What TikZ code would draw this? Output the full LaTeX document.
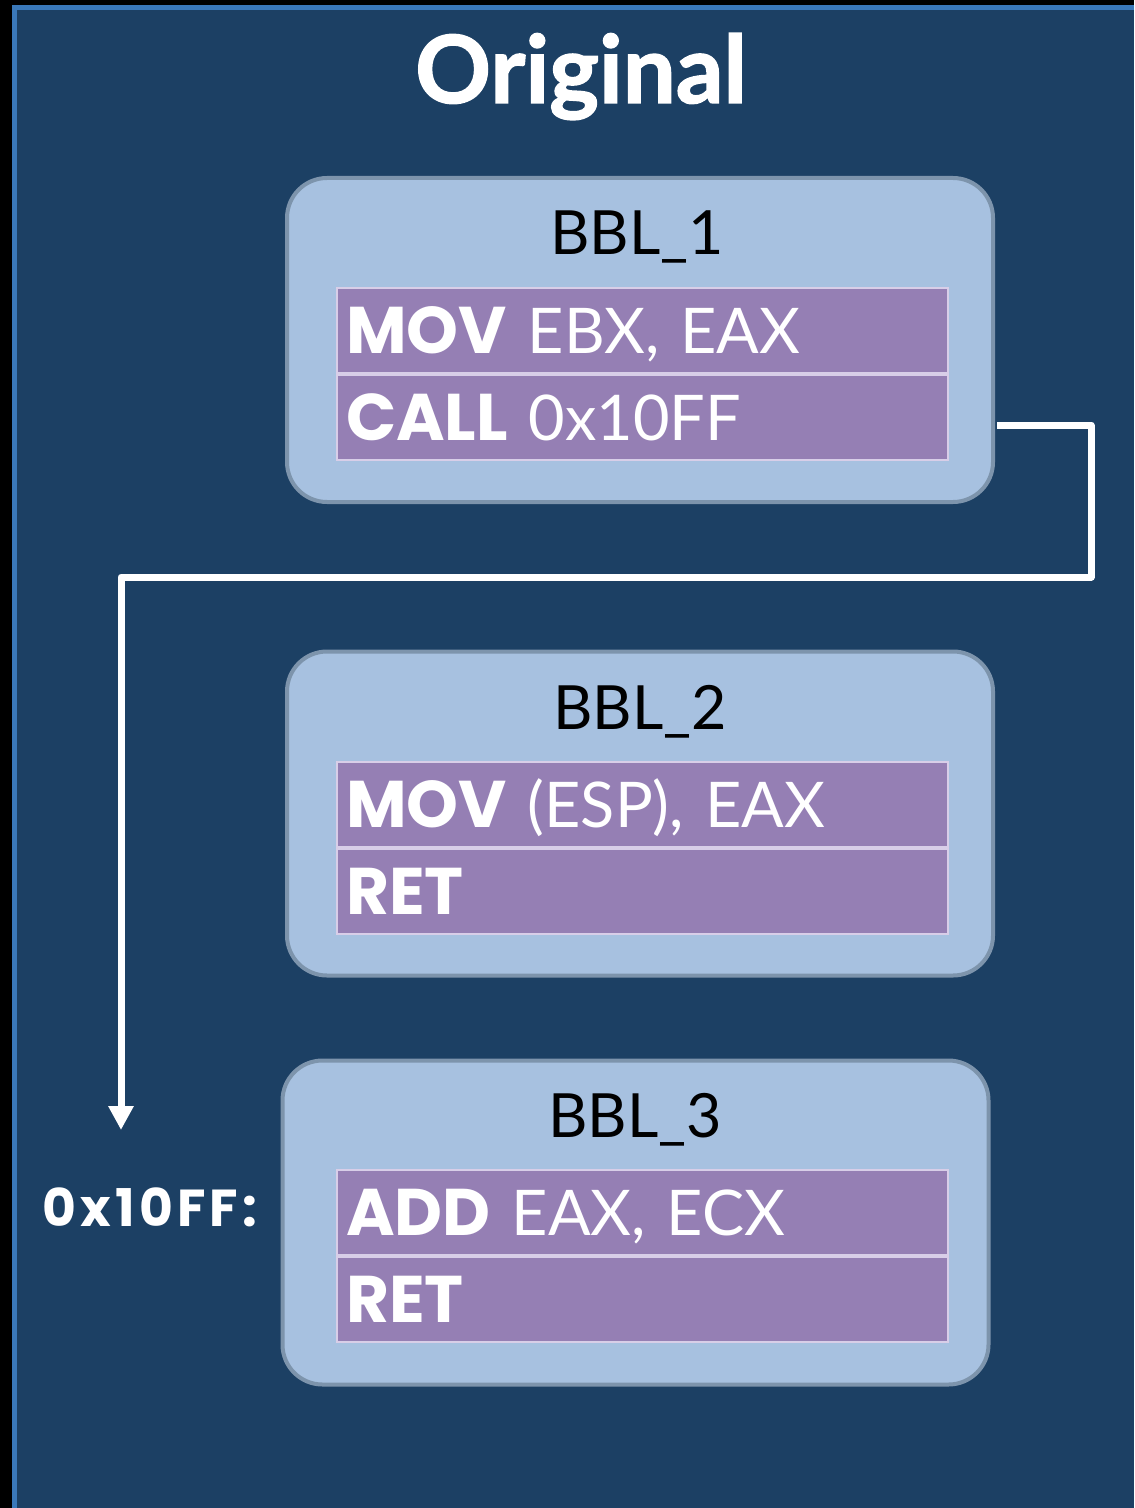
\documentclass[tikz,border=0pt]{standalone}
\usepackage{fontspec}
\setmainfont{Lato}
\newfontfamily\opfont{Poppins}
\newfontfamily\titlefont{Lato}[FakeBold=1.5]
\newfontfamily\addrfont{Poppins}[LetterSpace=8]
\definecolor{bgblue}{RGB}{28,64,100}
\definecolor{edgeblue}{RGB}{58,120,185}
\definecolor{bblfill}{RGB}{167,193,224}
\definecolor{bblline}{RGB}{125,148,172}
\definecolor{rowfill}{RGB}{149,127,180}
\definecolor{rowline}{RGB}{216,206,232}
\usetikzlibrary{positioning,arrows.meta}
\tikzset{
  bblbox/.style={draw=bblline, fill=bblfill, line width=2pt, rounded corners=20pt,
    minimum width=353pt, minimum height=162pt},
  bbllabel/.style={anchor=base, text=black, font=\fontsize{30.5}{30.5}\selectfont},
  instr/.style={draw=rowline, fill=rowfill, line width=1pt, text=white,
    inner xsep=4.5pt, inner ysep=0pt, text width=296.5pt, text height=32.5pt,
    text depth=10pt, align=left, font=\fontsize{31.5}{31.5}\selectfont},
  flow/.style={draw=white, line width=3.5pt, line join=round,
    -{Triangle[width=12pt,length=12pt]}},
}
\newcommand{\opc}[1]{{\opfont\bfseries\fontsize{33}{33}\selectfont #1}}

\begin{document}
\begin{tikzpicture}[x=0.5pt,y=-0.5pt]
  \useasboundingbox (0,0) rectangle (1134,1508);
  \fill[black] (0,0) rectangle (1134,1508);
  \fill[edgeblue] (12,5) rectangle (1134,1508);
  \fill[bgblue] (17,10) rectangle (1134,1508);

  \node[anchor=base, text=white, font=\titlefont\bfseries\fontsize{47}{47}\selectfont] (title) at (581,103) {Original};

  % basic blocks
  \node[bblbox] (bbl1) at (640,340) {};
  \node[bbllabel] (lab1) at (637,255) {BBL\_1};
  \node[instr, anchor=north west] (i11) at (336,287) {\opc{MOV} EBX, EAX};
  \node[instr, below=0pt of i11] (i12) {\opc{CALL} 0x10FF};

  \node[bblbox] (bbl2) at (640,813.5) {};
  \node[bbllabel] (lab2) at (640,729) {BBL\_2};
  \node[instr, anchor=north west] (i21) at (336,761) {\opc{MOV} (ESP), EAX};
  \node[instr, below=0pt of i21] (i22) {\opc{RET}};

  \node[bblbox] (bbl3) at (635.5,1222.5) {};
  \node[bbllabel] (lab3) at (635,1137) {BBL\_3};
  \node[instr, anchor=north west] (i31) at (336,1169) {\opc{ADD} EAX, ECX};
  \node[instr, below=0pt of i31] (i32) {\opc{RET}};

  \node[anchor=base, text=white, font=\addrfont\bfseries\fontsize{26}{26}\selectfont] (addr) at (150,1226) {0x10FF:};

  % call edge
  \coordinate (src) at (997,425);
  \coordinate (tgt) at (121,1130);
  \draw[flow] (src) -- (1091,425) |- (121,577) -- (tgt);
\end{tikzpicture}
\end{document}
